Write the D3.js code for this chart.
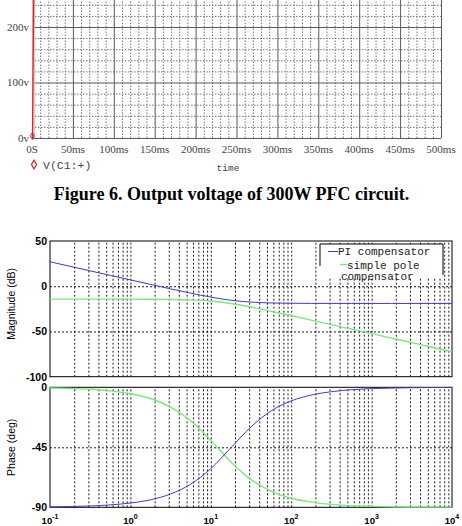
<!DOCTYPE html>
<html><head><meta charset="utf-8">
<script src="https://cdn.jsdelivr.net/npm/d3@7"></script>
<style>html,body{margin:0;padding:0;background:#fff}</style>
</head><body>
<svg id="c" width="462" height="526" xmlns="http://www.w3.org/2000/svg"></svg>
<script>
// ---------- Top chart (transient output voltage) ----------
const timeTicks = [0, 50, 100, 150, 200, 250, 300, 350, 400, 450, 500];
const timeTickLabels = ["0S", "50ms", "100ms", "150ms", "200ms", "250ms", "300ms", "350ms", "400ms", "450ms", "500ms"];
const voltGrid = [0, 100, 200, 300, 400];
const voltTicks = [0, 100, 200];
const voltTickLabels = ["0v", "100v", "200v"];
const vTime = [0.5, 1.0, 1.5, 2.0, 2.5, 3.0];
const vVolt = [0, 70, 150, 235, 315, 395];
const bandTime = [0, 3.8];
const bandLow = [0, 0];
const bandHigh = [400, 400];
const topSeriesName = "V(C1:+)";
const topXTitle = "time";
const captionText = "Figure 6. Output voltage of 300W PFC circuit.";

// ---------- Bode plot ----------
const freqs = [0.1, 0.178, 0.316, 0.562, 1, 1.78, 3.16, 5.62, 10, 17.8, 31.6, 56.2, 100, 178, 316, 562, 1000, 1778, 3162, 5623, 10000];
const piMag = [27.0, 22.0, 17.0, 12.0, 7.0, 2.0, -2.9, -7.6, -12.0, -15.5, -17.5, -18.5, -18.8, -18.95, -19, -19, -19, -19, -19, -19, -19];
const spMag = [-14.3, -14.3, -14.3, -14.3, -14.3, -14.4, -14.6, -15.1, -16.4, -19.1, -23.0, -27.8, -32.4, -37.4, -42.4, -47.4, -52.4, -57.4, -62.4, -67.4, -72.4];
const piPhase = [-89.7, -89.4, -89.0, -88.2, -86.8, -84.4, -80.0, -72.7, -61.0, -45.3, -29.7, -17.7, -10.2, -5.8, -3.3, -1.8, -1.0, -0.6, -0.3, -0.2, -0.1];
const spPhase = [-0.5, -0.9, -1.5, -2.7, -4.8, -8.4, -14.8, -25.1, -39.8, -56.0, -69.2, -77.9, -83.2, -86.1, -87.8, -88.8, -89.3, -89.6, -89.8, -89.9, -89.9];
const magTicks = [50, 0, -50, -100];
const phaseTicks = [0, -45, -90];
const decadeTicks = [0.1, 1, 10, 100, 1000, 10000];
const decadeExps = ["-1", "0", "1", "2", "3", "4"];
const legendNames = ["PI compensator", "simple pole", "compensator"];
const magTitle = "Magnitude (dB)";
const phaseTitle = "Phase (deg)";

const svg = d3.select("#c");
svg.append("rect").attr("width", 462).attr("height", 526).attr("fill", "#fff");

// ===== Top chart =====
const tx = d3.scaleLinear().domain([0, 500]).range([32, 441]);
const ty = d3.scaleLinear().domain([0, 400]).range([138, -84]);
const topG = svg.append("g");

const minorT = d3.range(10, 500, 10).filter(d => d % 50 !== 0);
const minorV = d3.range(20, 400, 20).filter(d => d % 100 !== 0);
topG.append("g").attr("transform", "translate(0,138)")
  .call(d3.axisBottom(tx).tickValues(minorT).tickSize(-222).tickFormat(""))
  .call(g => g.select(".domain").remove())
  .call(g => g.selectAll("line").attr("stroke", "#777").attr("stroke-dasharray", "1.5,1.5"));
topG.append("g").attr("transform", "translate(32,0)")
  .call(d3.axisLeft(ty).tickValues(minorV).tickSize(-409).tickFormat(""))
  .call(g => g.select(".domain").remove())
  .call(g => g.selectAll("line").attr("stroke", "#777").attr("stroke-dasharray", "1.5,1.5"));
topG.append("g").attr("transform", "translate(0,138)")
  .call(d3.axisBottom(tx).tickValues(timeTicks).tickSize(-222).tickFormat(""))
  .call(g => g.select(".domain").remove())
  .call(g => g.selectAll("line").attr("stroke", "#5a5a5a").attr("stroke-width", 1));
topG.append("g").attr("transform", "translate(32,0)")
  .call(d3.axisLeft(ty).tickValues(voltGrid).tickSize(-409).tickFormat(""))
  .call(g => g.select(".domain").remove())
  .call(g => g.selectAll("line").attr("stroke", "#5a5a5a").attr("stroke-width", 1));

topG.append("g").selectAll("text").data(voltTicks).join("text")
  .attr("x", 29).attr("y", d => ty(d) + 3.5).attr("text-anchor", "end")
  .attr("font-family", "Liberation Serif, serif").attr("font-size", 11).attr("fill", "#444")
  .text((d, i) => voltTickLabels[i]);
topG.append("g").selectAll("text").data(timeTicks).join("text")
  .attr("x", d => tx(d)).attr("y", 153).attr("text-anchor", "middle")
  .attr("font-family", "Liberation Serif, serif").attr("font-size", 11).attr("fill", "#444")
  .text((d, i) => timeTickLabels[i]);

const bandData = bandTime.map((t, i) => ({t, lo: bandLow[i], hi: bandHigh[i]}));
topG.append("path").datum(bandData)
  .attr("d", d3.area().x(d => tx(d.t)).y0(d => ty(d.lo)).y1(d => ty(d.hi)))
  .attr("fill", "#f2b8b8").attr("opacity", 0.85);
topG.append("path").datum(vTime.map((t, i) => [t, vVolt[i]]))
  .attr("d", d3.line().x(d => tx(d[0])).y(d => ty(d[1])))
  .attr("fill", "none").attr("stroke", "#e02020").attr("stroke-width", 1.2);
topG.append("path").attr("d", d3.symbol(d3.symbolDiamond, 14)())
  .attr("transform", `translate(${tx(vTime[0])},${ty(vVolt[0]) - 2})`)
  .attr("fill", "none").attr("stroke", "#e02020");

topG.append("path").attr("d", d3.symbol(d3.symbolDiamond, 22)())
  .attr("transform", "translate(34,164.5)").attr("fill", "#fff").attr("stroke", "#e02020").attr("stroke-width", 1.2);
topG.append("text").attr("x", 43).attr("y", 168.5)
  .attr("font-family", "Liberation Mono, monospace").attr("font-size", 11.5).attr("fill", "#444")
  .text(topSeriesName);
topG.append("text").attr("x", 228).attr("y", 171).attr("text-anchor", "middle")
  .attr("font-family", "Liberation Mono, monospace").attr("font-size", 9.5).attr("fill", "#444")
  .text(topXTitle);

svg.append("text").attr("x", 231.5).attr("y", 199.5).attr("text-anchor", "middle")
  .attr("font-family", "Liberation Serif, serif").attr("font-weight", "bold").attr("font-size", 18)
  .attr("fill", "#000").text(captionText);

// ===== Bode plot =====
const bx = d3.scaleLog().domain([0.1, 10000]).range([50, 452]);
const yMag = d3.scaleLinear().domain([-100, 50]).range([376.7, 241]);
const yPh = d3.scaleLinear().domain([-90, 0]).range([507.3, 387.3]);
const allLogTicks = bx.ticks().filter(d => d > 0.1 && d < 10000);

function panel(yScale, ticks, gridVals, y0, y1) {
  const g = svg.append("g");
  g.append("g").attr("transform", `translate(0,${y1})`)
    .call(d3.axisBottom(bx).tickValues(allLogTicks).tickSize(-(y1 - y0)).tickFormat(""))
    .call(a => a.select(".domain").remove())
    .call(a => a.selectAll("line").attr("stroke", "#000").attr("stroke-width", 0.9).attr("stroke-dasharray", "2,2"));
  g.append("g").attr("transform", "translate(50,0)")
    .call(d3.axisLeft(yScale).tickValues(gridVals).tickSize(-402).tickFormat(""))
    .call(a => a.select(".domain").remove())
    .call(a => a.selectAll("line").attr("stroke", "#000").attr("stroke-width", 0.9).attr("stroke-dasharray", "2,2"));
  g.append("rect").attr("x", 50).attr("y", y0).attr("width", 402).attr("height", y1 - y0)
    .attr("fill", "none").attr("stroke", "#000").attr("stroke-width", 1);
  g.append("g").selectAll("text").data(ticks).join("text")
    .attr("x", 47).attr("y", d => yScale(d) + 4).attr("text-anchor", "end")
    .attr("font-family", "Liberation Sans, Arial, sans-serif").attr("font-weight", "bold").attr("font-size", 10.5)
    .attr("fill", "#000").text(d => d);
  return g;
}
const magTop = yMag(50), magBot = yMag(-100);
const phTop = yPh(0), phBot = yPh(-90);
panel(yMag, magTicks, [0, -50], magTop, magBot);
panel(yPh, phaseTicks, [-45], phTop, phBot);

const lineMag = d3.line().x(d => bx(d[0])).y(d => yMag(d[1])).curve(d3.curveMonotoneX);
const linePh = d3.line().x(d => bx(d[0])).y(d => yPh(d[1])).curve(d3.curveMonotoneX);
const blue = "#3c3cc8", green = "#7ee67e";
svg.append("path").datum(freqs.map((f, i) => [f, spMag[i]])).attr("d", lineMag)
  .attr("fill", "none").attr("stroke", green).attr("stroke-width", 1.4);
svg.append("path").datum(freqs.map((f, i) => [f, piMag[i]])).attr("d", lineMag)
  .attr("fill", "none").attr("stroke", blue).attr("stroke-width", 1);
svg.append("path").datum(freqs.map((f, i) => [f, spPhase[i]])).attr("d", linePh)
  .attr("fill", "none").attr("stroke", green).attr("stroke-width", 1.4);
svg.append("path").datum(freqs.map((f, i) => [f, piPhase[i]])).attr("d", linePh)
  .attr("fill", "none").attr("stroke", blue).attr("stroke-width", 1);

const xl = svg.append("g").selectAll("text").data(decadeTicks).join("text")
  .attr("x", d => bx(d)).attr("y", 524).attr("text-anchor", "middle")
  .attr("font-family", "Liberation Sans, Arial, sans-serif").attr("font-weight", "bold").attr("font-size", 9.5)
  .attr("fill", "#000");
xl.append("tspan").text("10");
xl.append("tspan").attr("dy", -5).attr("font-size", 7).text((d, i) => decadeExps[i]);

svg.append("text").attr("transform", `translate(15,${(magTop + magBot) / 2 - 5}) rotate(-90)`)
  .attr("text-anchor", "middle").attr("font-family", "Liberation Sans, Arial, sans-serif").attr("font-size", 10.5)
  .attr("fill", "#000").text(magTitle);
svg.append("text").attr("transform", `translate(15,${(phTop + phBot) / 2}) rotate(-90)`)
  .attr("text-anchor", "middle").attr("font-family", "Liberation Sans, Arial, sans-serif").attr("font-size", 10.5)
  .attr("fill", "#000").text(phaseTitle);

const lg = svg.append("g");
lg.append("rect").attr("x", 320).attr("y", 244).attr("width", 123).attr("height", 33).attr("fill", "#fff").attr("stroke", "none");
lg.append("path").attr("d", "M320,266V244H443V275").attr("fill", "none").attr("stroke", "#000").attr("stroke-width", 1);
lg.append("line").attr("x1", 328).attr("x2", 338).attr("y1", 251.5).attr("y2", 251.5).attr("stroke", blue);
lg.append("line").attr("x1", 340).attr("x2", 347).attr("y1", 264.5).attr("y2", 264.5).attr("stroke", green).attr("stroke-width", 1.4);
const lfont = "Liberation Mono, Courier New, monospace";
lg.append("text").attr("x", 338).attr("y", 255).attr("font-family", lfont).attr("font-size", 11).attr("fill", "#222").text(legendNames[0]);
lg.append("text").attr("x", 347).attr("y", 268.5).attr("font-family", lfont).attr("font-size", 11).attr("fill", "#222").text(legendNames[1]);
lg.append("text").attr("x", 341).attr("y", 280).attr("font-family", lfont).attr("font-size", 11).attr("fill", "#222").text(legendNames[2]);
</script>
</body></html>
